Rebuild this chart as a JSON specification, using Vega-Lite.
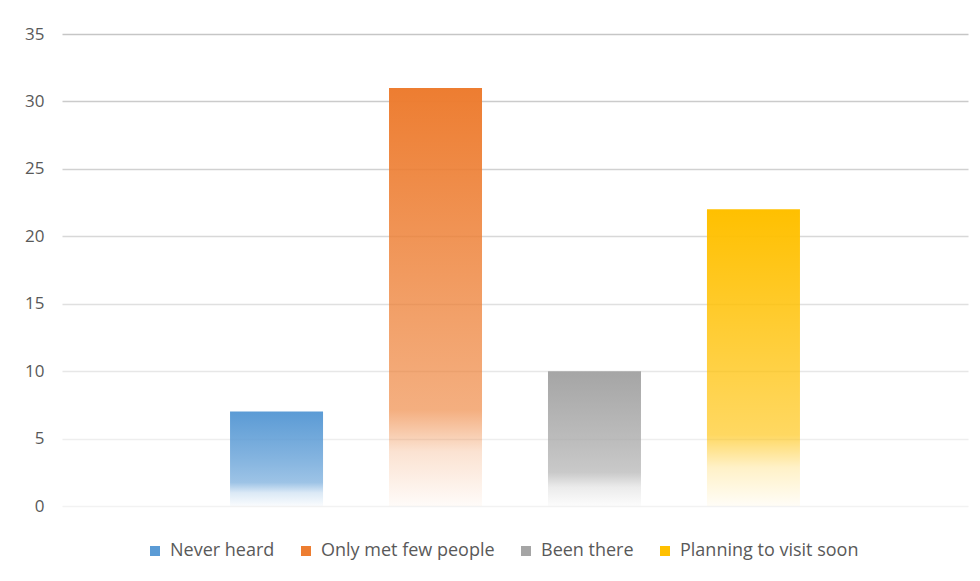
{
  "$schema": "https://vega.github.io/schema/vega-lite/v6.json",
  "autosize": {"type": "none"},
  "width": 906,
  "height": 472,
  "padding": {"left": 62, "top": 34, "right": 12, "bottom": 75},
  "background": "white",
  "data": {"values": [
    {"cat": "Never heard", "value": 7},
    {"cat": "Only met few people", "value": 31},
    {"cat": "Been there", "value": 10},
    {"cat": "Planning to visit soon", "value": 22}
  ]},
  "encoding": {
    "x": {"field": "cat", "type": "nominal", "axis": null,
      "scale": {"domain": ["_a", "Never heard", "Only met few people", "Been there", "Planning to visit soon", "_b"], "paddingInner": 0.415, "paddingOuter": 0.057}},
    "y": {"field": "value", "type": "quantitative", "scale": {"domain": [0, 35]},
      "axis": {"title": null, "values": [0,5,10,15,20,25,30,35], "domain": false, "ticks": false, "labelPadding": 18,
        "labelFont": "Open Sans", "labelFontSize": 17, "labelColor": "#595959",
        "gridColor": {"condition": [
          {"test": "datum.value >= 35", "value": "#c6c6c6"},
          {"test": "datum.value >= 30", "value": "#cbcbcb"},
          {"test": "datum.value >= 25", "value": "#d1d1d1"},
          {"test": "datum.value >= 20", "value": "#d8d8d8"},
          {"test": "datum.value >= 15", "value": "#e0e0e0"},
          {"test": "datum.value >= 10", "value": "#e7e7e7"},
          {"test": "datum.value >= 5", "value": "#eeeeee"}
        ], "value": "#f2f2f2"},
        "gridWidth": 1.5}}
  },
  "layer": [
    {
      "transform": [{"filter": "datum.value < 0"}],
      "mark": {"type": "bar"},
      "encoding": {
        "color": {"field": "cat", "type": "nominal",
          "scale": {"domain": ["Never heard", "Only met few people", "Been there", "Planning to visit soon"], "range": ["#5B9BD5", "#ED7D31", "#A5A5A5", "#FFC000"]},
          "legend": {"title": null, "orient": "none", "legendX": 84, "legendY": 508, "direction": "horizontal", "symbolType": "square", "symbolSize": 100,
            "symbolStrokeWidth": 0, "labelFont": "Open Sans", "labelFontSize": 18, "labelColor": "#595959", "labelLimit": 0, "columnPadding": 22, "labelOffset": 6}}
      }
    },
    {
      "transform": [{"filter": "datum.cat == 'Never heard'"}],
      "mark": {"type": "bar", "color": {"gradient": "linear", "x1": 0, "y1": 0, "x2": 0, "y2": 1, "stops": [
        {"offset": 0, "color": "rgba(91,155,213,1)"},
        {"offset": 0.5, "color": "rgba(91,155,213,0.75)"},
        {"offset": 0.75, "color": "rgba(91,155,213,0.6)"},
        {"offset": 0.86, "color": "rgba(91,155,213,0.22)"},
        {"offset": 1, "color": "rgba(91,155,213,0.03)"}]}}
    },
    {
      "transform": [{"filter": "datum.cat == 'Only met few people'"}],
      "mark": {"type": "bar", "color": {"gradient": "linear", "x1": 0, "y1": 0, "x2": 0, "y2": 1, "stops": [
        {"offset": 0, "color": "rgba(237,125,49,1)"},
        {"offset": 0.5, "color": "rgba(237,125,49,0.75)"},
        {"offset": 0.77, "color": "rgba(237,125,49,0.62)"},
        {"offset": 0.87, "color": "rgba(237,125,49,0.22)"},
        {"offset": 1, "color": "rgba(237,125,49,0.03)"}]}}
    },
    {
      "transform": [{"filter": "datum.cat == 'Been there'"}],
      "mark": {"type": "bar", "color": {"gradient": "linear", "x1": 0, "y1": 0, "x2": 0, "y2": 1, "stops": [
        {"offset": 0, "color": "rgba(165,165,165,1)"},
        {"offset": 0.5, "color": "rgba(165,165,165,0.75)"},
        {"offset": 0.75, "color": "rgba(165,165,165,0.6)"},
        {"offset": 0.86, "color": "rgba(165,165,165,0.22)"},
        {"offset": 1, "color": "rgba(165,165,165,0.03)"}]}}
    },
    {
      "transform": [{"filter": "datum.cat == 'Planning to visit soon'"}],
      "mark": {"type": "bar", "color": {"gradient": "linear", "x1": 0, "y1": 0, "x2": 0, "y2": 1, "stops": [
        {"offset": 0, "color": "rgba(255,192,0,1)"},
        {"offset": 0.5, "color": "rgba(255,192,0,0.75)"},
        {"offset": 0.76, "color": "rgba(255,192,0,0.62)"},
        {"offset": 0.87, "color": "rgba(255,192,0,0.22)"},
        {"offset": 1, "color": "rgba(255,192,0,0.03)"}]}}
    }
  ],
  "config": {"view": {"stroke": null}}
}
